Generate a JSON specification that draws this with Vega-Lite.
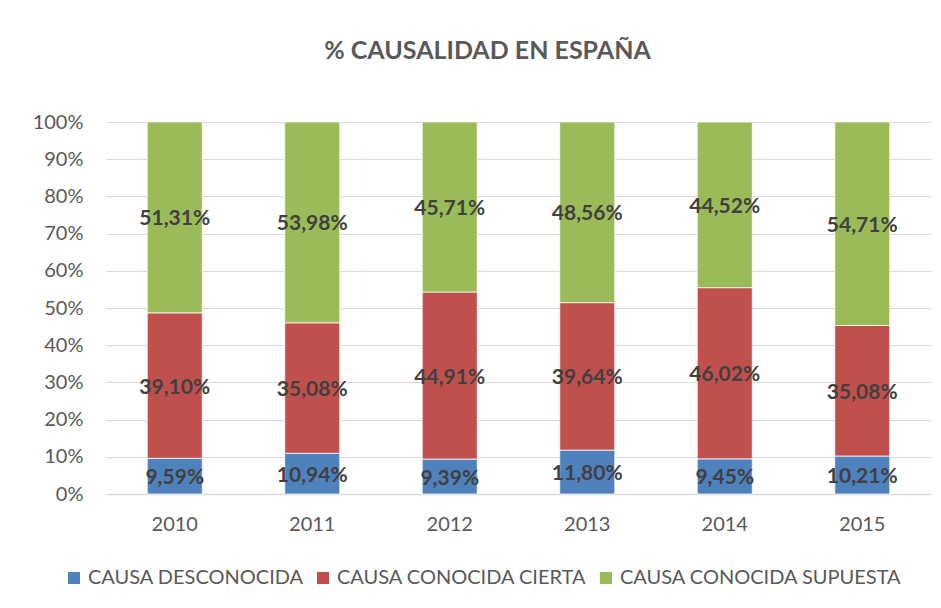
{
  "$schema": "https://vega.github.io/schema/vega-lite/v6.json",
  "width": 825,
  "height": 372,
  "autosize": "none",
  "padding": {"left": 106, "top": 122, "right": 10, "bottom": 114},
  "background": "white",
  "title": {
    "text": "% CAUSALIDAD EN ESPAÑA",
    "font": "Lato",
    "fontSize": 25,
    "fontWeight": "bold",
    "color": "#595959",
    "anchor": "middle",
    "dx": -31,
    "offset": 48
  },
  "data": {
    "values": [
      {"year": "2010", "cause": "CAUSA DESCONOCIDA", "ord": 1, "v": 9.59},
      {"year": "2010", "cause": "CAUSA CONOCIDA CIERTA", "ord": 2, "v": 39.10},
      {"year": "2010", "cause": "CAUSA CONOCIDA SUPUESTA", "ord": 3, "v": 51.31},
      {"year": "2011", "cause": "CAUSA DESCONOCIDA", "ord": 1, "v": 10.94},
      {"year": "2011", "cause": "CAUSA CONOCIDA CIERTA", "ord": 2, "v": 35.08},
      {"year": "2011", "cause": "CAUSA CONOCIDA SUPUESTA", "ord": 3, "v": 53.98},
      {"year": "2012", "cause": "CAUSA DESCONOCIDA", "ord": 1, "v": 9.39},
      {"year": "2012", "cause": "CAUSA CONOCIDA CIERTA", "ord": 2, "v": 44.91},
      {"year": "2012", "cause": "CAUSA CONOCIDA SUPUESTA", "ord": 3, "v": 45.71},
      {"year": "2013", "cause": "CAUSA DESCONOCIDA", "ord": 1, "v": 11.80},
      {"year": "2013", "cause": "CAUSA CONOCIDA CIERTA", "ord": 2, "v": 39.64},
      {"year": "2013", "cause": "CAUSA CONOCIDA SUPUESTA", "ord": 3, "v": 48.56},
      {"year": "2014", "cause": "CAUSA DESCONOCIDA", "ord": 1, "v": 9.45},
      {"year": "2014", "cause": "CAUSA CONOCIDA CIERTA", "ord": 2, "v": 46.02},
      {"year": "2014", "cause": "CAUSA CONOCIDA SUPUESTA", "ord": 3, "v": 44.52},
      {"year": "2015", "cause": "CAUSA DESCONOCIDA", "ord": 1, "v": 10.21},
      {"year": "2015", "cause": "CAUSA CONOCIDA CIERTA", "ord": 2, "v": 35.08},
      {"year": "2015", "cause": "CAUSA CONOCIDA SUPUESTA", "ord": 3, "v": 54.71}
    ]
  },
  "transform": [
    {"stack": "v", "groupby": ["year"], "sort": [{"field": "ord"}], "as": ["y0", "y1"]},
    {"calculate": "(datum.y0 + datum.y1) / 2", "as": "ymid"},
    {"calculate": "replace(format(datum.v, '.2f'), '.', ',') + '%'", "as": "label"}
  ],
  "encoding": {
    "x": {
      "field": "year",
      "type": "nominal",
      "title": null,
      "scale": {"paddingInner": 0.6, "paddingOuter": 0.3},
      "axis": {
        "labelAngle": 0,
        "labelFont": "Lato",
        "labelFontSize": 20,
        "labelColor": "#595959",
        "labelPadding": 20,
        "ticks": false,
        "domain": true,
        "domainColor": "#d9d9d9",
        "domainWidth": 1.5
      }
    }
  },
  "layer": [
    {
      "mark": {"type": "bar", "stroke": "white", "strokeWidth": 0.75},
      "encoding": {
        "y": {
          "field": "y0",
          "type": "quantitative",
          "title": null,
          "scale": {"domain": [0, 100], "nice": false},
          "axis": {
            "values": [0, 10, 20, 30, 40, 50, 60, 70, 80, 90, 100],
            "labelExpr": "datum.value + '%'",
            "labelOverlap": false,
            "labelFont": "Lato",
            "labelFontSize": 20,
            "labelColor": "#595959",
            "labelPadding": 23,
            "ticks": false,
            "domain": false,
            "gridColor": "#d9d9d9",
            "gridWidth": 1.2
          }
        },
        "y2": {"field": "y1"},
        "color": {
          "field": "cause",
          "type": "nominal",
          "sort": ["CAUSA DESCONOCIDA", "CAUSA CONOCIDA CIERTA", "CAUSA CONOCIDA SUPUESTA"],
          "scale": {
            "domain": ["CAUSA DESCONOCIDA", "CAUSA CONOCIDA CIERTA", "CAUSA CONOCIDA SUPUESTA"],
            "range": ["#4F81BD", "#C0504D", "#9BBB59"]
          },
          "legend": {
            "title": null,
            "orient": "none",
            "direction": "horizontal",
            "legendX": -42,
            "legendY": 446,
            "symbolType": "square",
            "symbolSize": 144,
            "symbolStrokeWidth": 0,
            "labelFont": "Lato",
            "labelFontSize": 20,
            "labelColor": "#595959",
            "labelOffset": 4,
            "columnPadding": 9,
            "labelLimit": 400
          }
        }
      }
    },
    {
      "mark": {"type": "text", "font": "Lato", "fontSize": 21, "fontWeight": "bold", "color": "#404040", "baseline": "middle", "dy": 2},
      "encoding": {
        "y": {
          "field": "ymid",
          "type": "quantitative",
          "title": null,
          "scale": {"domain": [0, 100], "nice": false},
          "axis": {
            "values": [0, 10, 20, 30, 40, 50, 60, 70, 80, 90, 100],
            "labelExpr": "datum.value + '%'",
            "labelOverlap": false,
            "labelFont": "Lato",
            "labelFontSize": 20,
            "labelColor": "#595959",
            "labelPadding": 23,
            "ticks": false,
            "domain": false,
            "gridColor": "#d9d9d9",
            "gridWidth": 1.2
          }
        },
        "text": {"field": "label"}
      }
    }
  ],
  "config": {
    "view": {"stroke": null}
  }
}
